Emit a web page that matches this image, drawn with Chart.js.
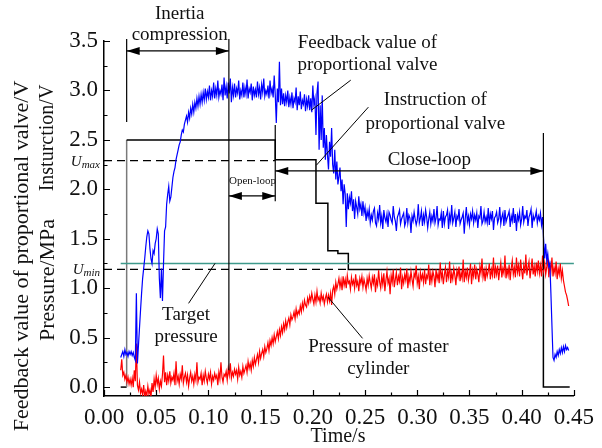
<!DOCTYPE html>
<html>
<head>
<meta charset="utf-8">
<script src="https://cdn.jsdelivr.net/npm/chart.js@4.4.0/dist/chart.umd.min.js"></script>
<style>
  html, body { margin: 0; padding: 0; background: #fff; }
</style>
</head>
<body>
<canvas id="myChart" width="602" height="448"></canvas>
<script>
// sampled signals: one value every sampleStep seconds from sampleStart
const sampleStart = 0.016;
const sampleStep = 0.001;

// feedback value of proportional valve (V)
const feedbackVolts = [
  0.30,0.33,0.36,0.31,0.38,0.33,0.35,0.31,0.36,0.33,
  0.36,0.32,0.35,0.30,0.27,0.95,0.24,0.42,0.60,0.78,
  0.95,1.10,1.20,1.30,1.42,1.52,1.58,1.55,1.40,1.30,
  1.25,1.38,1.35,1.45,1.50,1.60,1.55,1.10,0.90,1.20,
  0.87,1.25,1.58,1.62,1.85,1.95,2.03,1.88,1.92,2.02,
  2.12,2.18,2.22,2.30,2.35,2.40,2.45,2.48,2.55,2.60,
  2.58,2.66,2.70,2.74,2.68,2.78,2.72,2.82,2.76,2.86,
  2.78,2.88,2.82,2.92,2.84,2.94,2.86,2.96,2.88,2.98,
  2.90,3.02,2.91,2.99,2.93,3.05,2.90,3.00,2.94,3.08,
  2.92,3.02,2.95,3.10,2.93,3.00,2.96,3.06,2.90,3.13,
  2.95,3.04,2.92,3.08,2.97,3.12,2.88,3.03,2.95,3.07,
  2.93,3.02,2.97,3.10,2.91,3.00,2.95,3.08,2.93,3.03,
  2.96,3.11,2.92,3.02,2.98,3.07,2.90,3.04,2.95,3.01,
  2.93,3.09,2.96,3.03,2.91,3.06,2.98,3.12,2.94,3.00,
  2.96,3.05,2.92,3.10,2.97,3.02,2.93,3.15,2.96,2.67,
  3.02,2.88,3.29,2.85,3.02,2.86,2.97,2.84,2.95,2.88,
  3.00,2.83,2.93,2.86,2.98,2.82,2.92,2.88,3.03,2.80,
  2.94,2.85,2.99,2.81,2.90,2.86,2.96,2.79,2.91,2.84,
  2.95,2.80,2.92,2.78,3.05,2.86,2.92,2.55,2.98,3.09,
  2.40,2.85,2.50,2.95,2.42,2.62,2.30,2.55,2.35,2.20,
  2.48,2.33,2.62,2.25,2.16,2.40,2.10,2.28,2.05,2.13,
  2.22,1.98,2.10,1.85,2.05,1.95,1.62,1.96,1.80,1.92,
  1.86,1.98,1.78,1.90,1.70,1.88,1.82,1.75,1.93,1.80,
  1.85,1.73,1.88,1.76,1.82,1.68,1.78,1.72,1.80,1.66,
  1.74,1.69,1.78,1.81,1.66,1.63,1.76,1.70,1.84,1.66,
  1.73,1.60,1.79,1.71,1.67,1.75,1.62,1.77,1.74,1.69,
  1.66,1.83,1.72,1.68,1.58,1.72,1.75,1.79,1.65,1.70,
  1.73,1.76,1.63,1.67,1.81,1.66,1.74,1.71,1.56,1.73,
  1.68,1.77,1.70,1.64,1.69,1.85,1.66,1.71,1.78,1.63,
  1.74,1.67,1.79,1.72,1.61,1.70,1.77,1.65,1.73,1.68,
  1.80,1.66,1.71,1.83,1.64,1.70,1.69,1.76,1.61,1.78,
  1.65,1.72,1.74,1.79,1.60,1.74,1.68,1.84,1.66,1.71,
  1.77,1.62,1.73,1.70,1.80,1.65,1.69,1.72,1.76,1.55,
  1.71,1.82,1.67,1.73,1.64,1.75,1.70,1.78,1.66,1.74,
  1.69,1.76,1.61,1.73,1.71,1.83,1.65,1.68,1.77,1.67,
  1.72,1.66,1.81,1.64,1.75,1.70,1.78,1.59,1.71,1.73,
  1.77,1.66,1.70,1.82,1.65,1.72,1.76,1.63,1.79,1.67,
  1.71,1.74,1.78,1.62,1.73,1.68,1.81,1.66,1.75,1.58,
  1.74,1.69,1.77,1.64,1.70,1.83,1.67,1.73,1.71,1.79,
  1.63,1.72,1.75,1.80,1.61,1.74,1.69,1.72,1.78,1.66,
  1.73,1.69,1.76,1.64,1.72,1.50,1.30,1.45,1.28,1.35,
  1.22,1.25,0.95,0.62,0.30,0.27,0.33,0.30,0.36,0.32,
  0.38,0.34,0.40,0.35,0.41,0.36,0.42,0.38,0.40,0.37
];

// pressure of master cylinder (MPa)
const masterPressure = [
  0.17,0.28,0.12,0.15,0.08,0.12,0.05,0.10,0.03,0.08,
  0.02,0.09,0.00,0.17,0.06,0.44,0.02,-0.03,0.05,-0.06,
  -0.02,-0.08,0.02,-0.10,-0.04,-0.09,0.01,-0.07,-0.03,-0.10,
  0.04,-0.05,0.08,0.00,0.12,0.03,0.09,-0.02,0.06,0.01,
  0.13,0.32,0.05,0.15,0.02,0.12,0.06,0.16,0.04,0.10,
  0.07,0.14,0.02,0.26,0.06,0.11,0.03,0.13,0.08,0.22,
  0.04,0.10,0.14,0.05,0.12,0.01,0.09,0.15,0.06,0.11,
  0.03,0.13,0.07,0.25,0.05,0.10,0.08,0.14,0.02,0.12,
  0.06,0.16,0.09,0.04,0.13,0.08,0.15,0.03,0.11,0.07,
  0.14,0.09,0.12,0.02,0.15,0.08,0.25,0.10,0.05,0.13,
  0.11,0.16,0.07,0.19,0.12,0.24,0.09,0.15,0.11,0.18,
  0.13,0.17,0.08,0.20,0.12,0.16,0.10,0.21,0.14,0.18,
  0.22,0.15,0.26,0.19,0.24,0.17,0.27,0.21,0.30,0.23,
  0.28,0.33,0.25,0.36,0.29,0.34,0.38,0.31,0.41,0.35,
  0.39,0.45,0.37,0.47,0.42,0.50,0.44,0.53,0.46,0.51,
  0.56,0.49,0.58,0.52,0.61,0.55,0.64,0.58,0.67,0.60,
  0.66,0.70,0.63,0.73,0.68,0.71,0.76,0.69,0.79,0.72,
  0.77,0.74,0.82,0.76,0.85,0.79,0.88,0.83,0.81,0.90,
  0.85,0.92,0.87,0.95,0.89,0.84,0.93,0.86,0.97,0.88,
  0.91,0.85,0.95,0.88,0.92,0.84,0.90,0.94,0.86,0.93,
  0.87,0.95,0.83,0.98,1.02,0.94,1.06,0.99,1.04,1.10,
  1.01,1.08,0.98,1.12,1.03,1.09,1.00,1.13,1.05,1.07,
  0.99,1.11,1.04,1.08,1.00,1.14,1.03,1.07,0.97,1.10,
  1.05,1.12,1.01,1.09,1.04,0.98,1.10,1.03,1.13,1.06,
  1.00,1.11,1.05,1.14,0.96,1.08,1.03,1.18,1.06,1.00,
  1.12,1.04,1.15,0.97,1.08,1.17,1.05,1.10,0.94,1.13,
  1.06,1.19,1.01,1.09,1.16,1.03,1.12,1.07,1.21,0.99,
  1.11,1.05,1.14,1.08,1.20,1.00,1.12,1.06,1.17,1.09,
  1.02,1.15,1.11,1.23,1.05,1.12,0.99,1.16,1.09,1.14,
  1.06,1.19,1.04,1.13,1.10,1.24,1.03,1.15,1.07,1.17,
  1.12,1.01,1.19,1.09,1.15,1.05,1.26,1.10,1.16,1.04,
  1.14,1.21,1.06,1.17,1.11,1.27,1.05,1.15,1.09,1.20,
  1.13,1.03,1.18,1.12,1.22,1.07,1.16,1.10,1.29,1.06,
  1.17,1.11,1.21,1.08,1.14,1.25,1.04,1.18,1.12,1.24,
  1.09,1.19,1.14,1.06,1.22,1.15,1.30,1.11,1.18,1.07,
  1.20,1.12,1.17,1.25,1.09,1.19,1.13,1.31,1.10,1.21,
  1.14,1.23,1.08,1.18,1.26,1.11,1.20,1.15,1.33,1.10,
  1.19,1.13,1.24,1.08,1.20,1.28,1.14,1.21,1.11,1.31,
  1.16,1.23,1.12,1.29,1.18,1.09,1.23,1.15,1.34,1.13,
  1.21,1.27,1.10,1.19,1.30,1.14,1.22,1.12,1.26,1.17,
  1.28,1.15,1.23,1.12,1.33,1.18,1.26,1.14,1.21,1.30,
  1.11,1.24,1.17,1.31,1.12,1.21,1.15,1.27,1.09,1.20,
  1.14,1.25,1.10,1.18,1.08,1.02,0.96,0.93,0.88,0.82
];

// instruction of proportional valve (step signal)
const instructionTimes = [0.016, 0.0217, 0.0217, 0.164, 0.164, 0.203, 0.203, 0.2144, 0.2144, 0.224, 0.224, 0.234, 0.234, 0.4208, 0.4208, 0.446];
const instructionVolts = [0, 0, 2.5, 2.5, 2.3, 2.3, 1.86, 1.86, 1.38, 1.38, 1.35, 1.35, 1.19, 1.19, 0, 0];

// target pressure and the two threshold voltages
const targetTimes = [0.016, 0.45];
const targetValues = [1.25, 1.25];
const uMaxTimes = [0, 0.164];
const uMaxValues = [2.29, 2.29];
const uMinTimes = [0, 0.234];
const uMinValues = [1.19, 1.19];

// axis ticks
const xTicks = [0, 0.05, 0.10, 0.15, 0.20, 0.25, 0.30, 0.35, 0.40, 0.45];
const yTicks = [0, 0.5, 1.0, 1.5, 2.0, 2.5, 3.0, 3.5];

const sampleTimes = feedbackVolts.map((_, i) => +(sampleStart + i * sampleStep).toFixed(4));
const toPoints = (xs, ys) => xs.map((x, i) => ({ x: x, y: ys[i] }));

const serif = '"Liberation Serif", "Times New Roman", serif';

// ticks, arrows, call-outs and axis titles
const decor = {
  id: 'decor',
  afterDatasetsDraw(chart) {
    const { ctx, chartArea: a } = chart;
    const X = t => chart.scales.x.getPixelForValue(t);
    const Y = v => chart.scales.y.getPixelForValue(v);
    ctx.save();
    ctx.strokeStyle = '#000';
    ctx.fillStyle = '#000';

    // inward tick marks, major and minor
    ctx.lineWidth = 1.2;
    ctx.beginPath();
    xTicks.forEach((t, i) => {
      const p = Math.round(X(t)) + 0.5;
      ctx.moveTo(p, a.bottom); ctx.lineTo(p, a.bottom - 6);
      if (i < xTicks.length - 1) {
        const m = Math.round(X((t + xTicks[i + 1]) / 2)) + 0.5;
        ctx.moveTo(m, a.bottom); ctx.lineTo(m, a.bottom - 3.5);
      }
    });
    yTicks.forEach((v, i) => {
      const p = Math.round(Y(v)) + 0.5;
      ctx.moveTo(a.left, p); ctx.lineTo(a.left + 6, p);
      if (i < yTicks.length - 1) {
        const m = Math.round(Y((v + yTicks[i + 1]) / 2)) + 0.5;
        ctx.moveTo(a.left, m); ctx.lineTo(a.left + 3.5, m);
      }
    });
    ctx.stroke();

    const seg = (t1, v1, t2, v2, w) => {
      ctx.lineWidth = w || 1;
      ctx.beginPath();
      ctx.moveTo(X(t1), Y(v1));
      ctx.lineTo(X(t2), Y(v2));
      ctx.stroke();
    };
    const head = (t, v, dir) => {
      const x = X(t), y = Y(v);
      ctx.beginPath();
      ctx.moveTo(x, y);
      ctx.lineTo(x - dir * 13, y - 4);
      ctx.lineTo(x - dir * 13, y + 4);
      ctx.closePath();
      ctx.fill();
    };
    const arrow = (t1, t2, v) => {
      seg(t1, v, t2, v, 1.2);
      head(t1, v, -1);
      head(t2, v, 1);
    };

    // inertia compression bracket
    seg(0.0217, 3.52, 0.0217, 2.68, 1.2);
    seg(0.1196, 3.52, 0.1196, 0.17, 1.2);
    arrow(0.0217, 0.1196, 3.40);
    // open-loop
    seg(0.164, 2.65, 0.164, 1.88, 1.2);
    arrow(0.1196, 0.164, 1.933);
    // close-loop
    seg(0.4208, 2.57, 0.4208, 1.19, 1.2);
    arrow(0.164, 0.4208, 2.186);

    // leader lines
    seg(0.2363, 3.104, 0.1986, 2.80, 1);
    seg(0.2532, 2.831, 0.2034, 2.244, 1);
    seg(0.1064, 1.252, 0.081, 0.847, 1);
    seg(0.2147, 0.908, 0.2476, 0.493, 1);

    // call-out texts
    ctx.fillStyle = '#111';
    ctx.textAlign = 'center';
    ctx.textBaseline = 'middle';
    const text = (s, t, v) => ctx.fillText(s, X(t), Y(v));
    ctx.font = '19px ' + serif;
    text('Inertia', 0.0725, 3.77);
    text('compression', 0.0725, 3.56);
    text('Feedback value of', 0.2523, 3.478);
    text('proportional valve', 0.2523, 3.256);
    text('Instruction of', 0.3173, 2.902);
    text('proportional valve', 0.3173, 2.659);
    text('Close-loop', 0.3116, 2.295);
    text('Target', 0.0786, 0.726);
    text('pressure', 0.0786, 0.504);
    text('Pressure of master', 0.2627, 0.402);
    text('cylinder', 0.2627, 0.179);
    ctx.font = '11px ' + serif;
    text('Open-loop', 0.1422, 2.082);

    // U max / U min labels left of the axis
    const uLabel = (sub, v) => {
      const y = Y(v);
      ctx.textAlign = 'right';
      ctx.textBaseline = 'alphabetic';
      ctx.font = 'italic 11px ' + serif;
      const w = ctx.measureText(sub).width;
      ctx.fillText(sub, a.left - 4, y + 7);
      ctx.font = 'italic 15px ' + serif;
      ctx.fillText('U', a.left - 4 - w, y + 5);
    };
    uLabel('max', uMaxValues[0]);
    uLabel('min', uMinValues[0]);

    // axis titles
    ctx.textAlign = 'center';
    ctx.textBaseline = 'middle';
    const vtitle = (s, x, y, size) => {
      ctx.save();
      ctx.translate(x, y);
      ctx.rotate(-Math.PI / 2);
      ctx.font = size + 'px ' + serif;
      ctx.fillText(s, 0, 0);
      ctx.restore();
    };
    vtitle('Feedback value of proportional valve/V', 22, 256, 22);
    vtitle('Insturction/V', 48, 138, 20);
    vtitle('Pressure/MPa', 48, 280, 22);
    ctx.font = '20px ' + serif;
    ctx.fillText('Time/s', 338, 437);

    ctx.restore();
  }
};

const data = {
  datasets: [{
    label: 'Feedback value of proportional valve',
    data: toPoints(sampleTimes, feedbackVolts),
    borderColor: '#0000ff',
    borderWidth: 1.2,
    order: 0
  }, {
    label: 'Pressure of master cylinder',
    data: toPoints(sampleTimes, masterPressure),
    borderColor: '#ff0000',
    borderWidth: 1.2,
    order: 1
  }, {
    label: 'Target pressure',
    data: toPoints(targetTimes, targetValues),
    borderColor: '#3f9a8c',
    borderWidth: 1.3,
    order: 2
  }, {
    label: 'Instruction of proportional valve',
    data: toPoints(instructionTimes, instructionVolts),
    borderColor: '#000',
    borderWidth: 1.5,
    order: 3,
    segment: {
      // the rising edge of the step shows up grey in the original
      borderColor: c => (c.p0.parsed.x === c.p1.parsed.x && c.p0.parsed.y === 0 && c.p1.parsed.y > 2) ? '#7a7a7a' : undefined
    }
  }, {
    label: 'U max',
    data: toPoints(uMaxTimes, uMaxValues),
    borderColor: '#000',
    borderWidth: 1.3,
    borderDash: [8, 5],
    order: 4
  }, {
    label: 'U min',
    data: toPoints(uMinTimes, uMinValues),
    borderColor: '#000',
    borderWidth: 1.3,
    borderDash: [8, 5],
    order: 4
  }]
};

const config = {
  type: 'line',
  data,
  options: {
    responsive: false,
    animation: false,
    layout: { padding: { top: 41, right: 20, left: 0, bottom: 0 } },
    elements: { point: { radius: 0 }, line: { tension: 0 } },
    plugins: { legend: { display: false }, tooltip: { enabled: false } },
    scales: {
      x: {
        type: 'linear',
        min: 0,
        max: 0.45,
        grid: { display: false, drawTicks: false },
        border: { display: true, color: '#000', width: 1.5 },
        ticks: {
          color: '#111',
          font: { family: serif, size: 23 },
          padding: 8,
          maxRotation: 0,
          callback: v => v.toFixed(2)
        },
        afterBuildTicks: s => { s.ticks = xTicks.map(v => ({ value: v })); },
        afterFit: s => { s.height = 52; }
      },
      y: {
        type: 'linear',
        min: -0.09,
        max: 3.5,
        grid: { display: false, drawTicks: false },
        border: { display: true, color: '#000', width: 1.5 },
        ticks: {
          color: '#111',
          font: { family: serif, size: 23 },
          padding: 6,
          callback: v => v.toFixed(1)
        },
        afterBuildTicks: s => { s.ticks = yTicks.map(v => ({ value: v })); },
        afterFit: s => { s.width = 104; }
      }
    }
  },
  plugins: [decor]
};

const myChart = new Chart(document.getElementById('myChart'), config);
</script>
</body>
</html>
